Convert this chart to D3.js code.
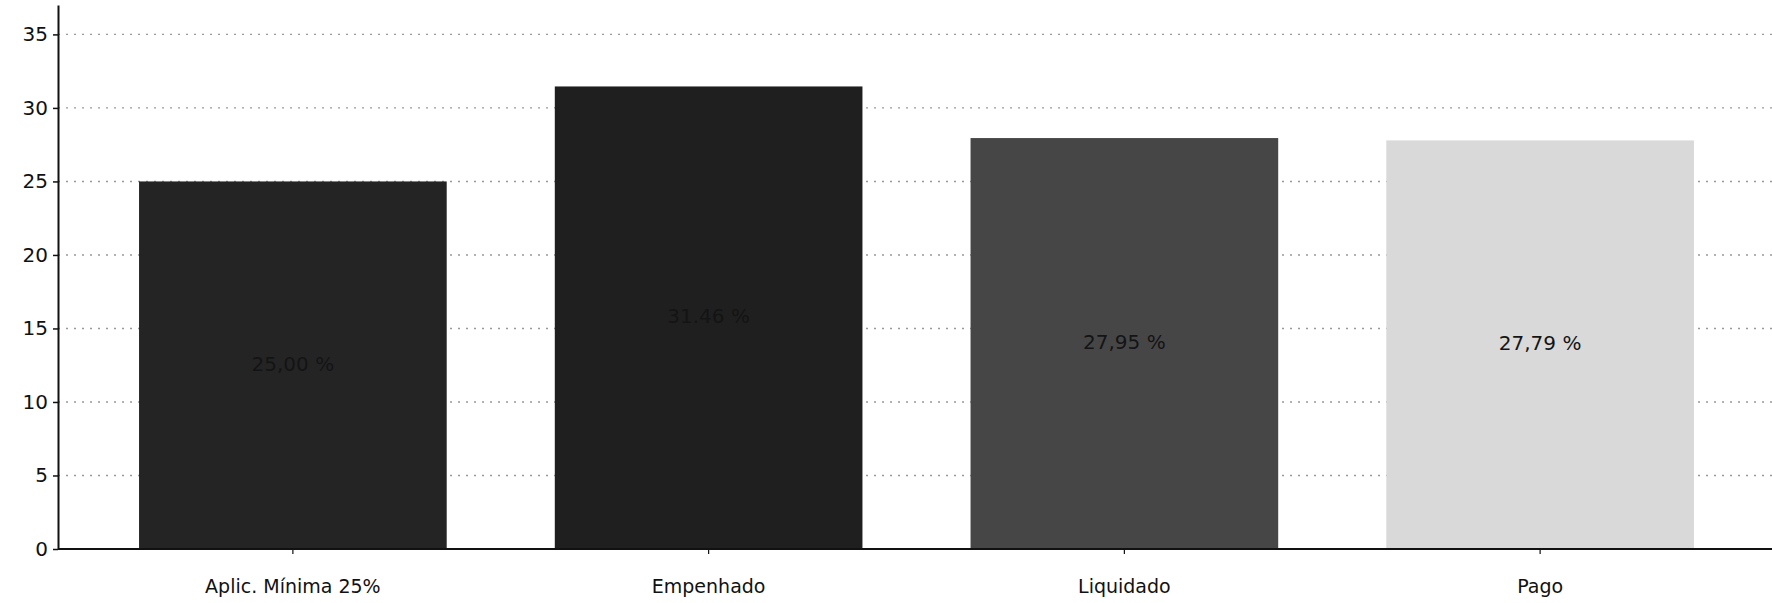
<!DOCTYPE html>
<html>
<head>
<meta charset="utf-8">
<script src="https://cdn.jsdelivr.net/npm/d3@7"></script>
<style>
  body { margin: 0; background: #fff; }
  text { font-family: "DejaVu Sans", sans-serif; }
</style>
</head>
<body>
<svg id="chart" width="1772" height="603"></svg>
<script>
// Data
const categories = ["Aplic. Mínima 25%", "Empenhado", "Liquidado", "Pago"];
const values = [25.00, 31.46, 27.95, 27.79];
const valueLabels = ["25,00 %", "31.46 %", "27,95 %", "27,79 %"];
const barColors = ["#242424", "#1f1f1f", "#464646", "#d9d9d9"];
const yTicks = [0, 5, 10, 15, 20, 25, 30, 35];

const svg = d3.select("#chart");
const axisX = 58;       // left axis position
const baseY = 549;      // zero line
const topY = 5;

const yScale = d3.scaleLinear().domain([0, 37]).range([baseY, topY]);
const xScale = d3.scaleBand()
  .domain(categories)
  .range([85, 1748])
  .paddingInner(0.26)
  .paddingOuter(0.13);

// Grid lines (dotted)
svg.append("g")
  .selectAll("line")
  .data(yTicks.filter(d => d > 0))
  .enter().append("line")
  .attr("x1", axisX)
  .attr("x2", 1772)
  .attr("y1", d => yScale(d))
  .attr("y2", d => yScale(d))
  .attr("stroke", "#999")
  .attr("stroke-width", 1.4)
  .attr("stroke-dasharray", "2,6");

// Bars
svg.append("g")
  .selectAll("rect")
  .data(categories)
  .enter().append("rect")
  .attr("x", d => xScale(d))
  .attr("y", (d, i) => yScale(values[i]))
  .attr("width", xScale.bandwidth())
  .attr("height", (d, i) => baseY - yScale(values[i]))
  .attr("fill", (d, i) => barColors[i]);

// Value labels in middle of bars
svg.append("g")
  .selectAll("text")
  .data(categories)
  .enter().append("text")
  .attr("x", d => xScale(d) + xScale.bandwidth() / 2)
  .attr("y", (d, i) => yScale(values[i] / 2))
  .attr("text-anchor", "middle")
  .attr("dominant-baseline", "middle")
  .attr("font-size", 20)
  .attr("fill", "#141414")
  .text((d, i) => valueLabels[i]);

// Y axis
const yAxis = svg.append("g")
  .attr("transform", `translate(${axisX},0)`)
  .call(d3.axisLeft(yScale).tickValues(yTicks).tickSize(5).tickPadding(5).tickSizeOuter(0));
yAxis.select(".domain").attr("stroke", "#111").attr("stroke-width", 2);
yAxis.selectAll(".tick line").attr("stroke", "#111").attr("stroke-width", 1.5);
yAxis.selectAll(".tick text")
  .attr("font-size", 20)
  .attr("fill", "#111")
  .style("font-family", "DejaVu Sans, sans-serif");

// X axis
const xAxis = svg.append("g")
  .attr("transform", `translate(0,${baseY})`)
  .call(d3.axisBottom(xScale).tickSize(5).tickPadding(26));
xAxis.select(".domain").remove();
xAxis.selectAll(".tick line").attr("stroke", "#111").attr("stroke-width", 1.2);
xAxis.selectAll(".tick text")
  .attr("font-size", 19)
  .attr("fill", "#111")
  .style("font-family", "DejaVu Sans, sans-serif");

svg.append("line")
  .attr("x1", axisX)
  .attr("x2", 1772)
  .attr("y1", baseY)
  .attr("y2", baseY)
  .attr("stroke", "#111")
  .attr("stroke-width", 2);
</script>
</body>
</html>
